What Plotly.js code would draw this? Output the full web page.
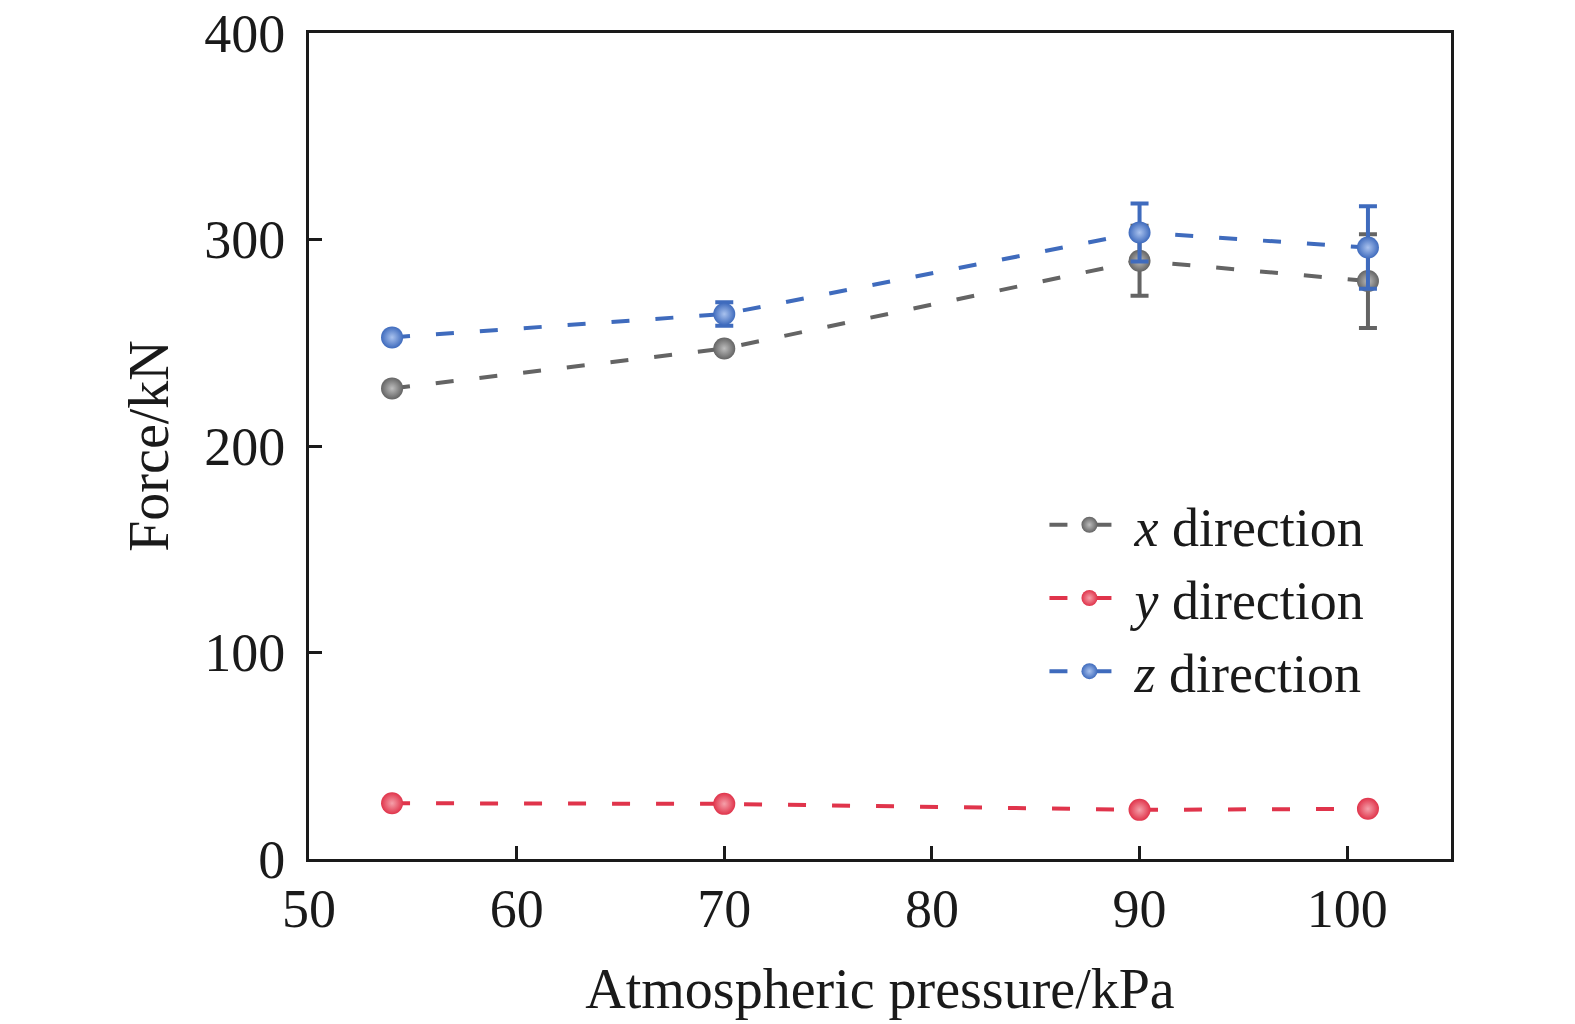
<!DOCTYPE html>
<html>
<head>
<meta charset="utf-8">
<script src="https://cdn.plot.ly/plotly-3.0.1.min.js"></script>
<style>html,body{margin:0;padding:0;background:#fff}#chart{width:1575px;height:1024px}</style>
</head>
<body>
<div id="chart"></div>
<script>
const pressure = [54, 70, 90, 101];
const forceX = [227.9, 247.2, 289.7, 279.9];
const forceY = [27.0, 26.7, 23.8, 24.3];
const forceZ = [252.6, 263.9, 303.4, 296.1];
const errX = [1.5, 2, 17, 22.7];
const errY = [1, 1, 1, 1];
const errZ = [2, 5.7, 14, 20];
const seriesNames = ['<i>x</i> direction', '<i>y</i> direction', '<i>z</i> direction'];
const seriesColors = ['#646464', '#e0344b', '#3f6bbd'];
const highlight = ['#bdbdbd', '#f5a0aa', '#a9c2ee'];

const values = [forceX, forceY, forceZ];
const errors = [errX, errY, errZ];
const font = 'Liberation Serif, Times New Roman, serif';

const traces = values.map((v, i) => ({
  type: 'scatter',
  mode: 'lines+markers',
  x: pressure,
  y: v,
  name: seriesNames[i],
  line: {color: seriesColors[i], width: 4, dash: '18px,26px'},
  marker: {size: 22, color: seriesColors[i], gradient: {type: 'radial', color: highlight[i]}},
  error_y: {type: 'data', array: errors[i], visible: true, color: seriesColors[i], thickness: 4, width: 9}
}));

const layout = {
  width: 1575,
  height: 1024,
  paper_bgcolor: '#fff',
  plot_bgcolor: '#fff',
  margin: {l: 309, r: 124, t: 33, b: 165},
  font: {family: font, color: '#1a1a1a', size: 52},
  showlegend: true,
  legend: {
    x: 0.644, y: 0.455, xanchor: 'left', yanchor: 'top',
    bgcolor: 'rgba(0,0,0,0)',
    font: {family: font, size: 54, color: '#1a1a1a'},
    itemwidth: 80,
    tracegroupgap: 0
  },
  xaxis: {
    range: [50, 105],
    tickvals: [50, 60, 70, 80, 90, 100],
    ticks: 'inside', ticklen: 13, tickwidth: 3, tickcolor: '#1a1a1a',
    showline: true, linecolor: '#1a1a1a', linewidth: 3, mirror: true,
    showgrid: false, zeroline: false,
    ticklabeloverflow: 'allow',
    tickfont: {family: font, size: 54, color: '#1a1a1a'},
    title: {text: 'Atmospheric pressure/kPa', font: {family: font, size: 56, color: '#1a1a1a'}, standoff: 32}
  },
  yaxis: {
    range: [0, 400],
    tickvals: [0, 100, 200, 300, 400],
    ticks: 'inside', ticklen: 13, tickwidth: 3, tickcolor: '#1a1a1a',
    showline: true, linecolor: '#1a1a1a', linewidth: 3, mirror: true,
    showgrid: false, zeroline: false,
    ticklabeloverflow: 'allow',
    ticklabelstandoff: 10,
    tickfont: {family: font, size: 54, color: '#1a1a1a'},
    title: {text: 'Force/kN', font: {family: font, size: 56, color: '#1a1a1a'}, standoff: 18}
  }
};

Plotly.newPlot('chart', traces, layout, {staticPlot: true, displayModeBar: false});
</script>
</body>
</html>
